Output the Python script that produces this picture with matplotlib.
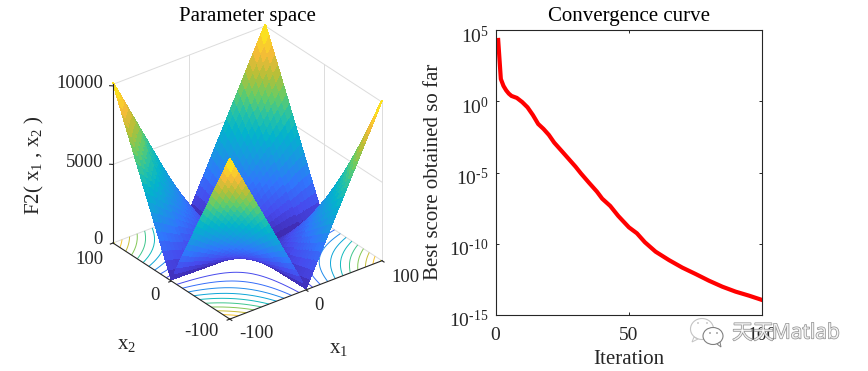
import numpy as np
import matplotlib
matplotlib.use('Agg')
import matplotlib.pyplot as plt
import matplotlib.patheffects as pe
from matplotlib.colors import LinearSegmentedColormap
from matplotlib.patches import Ellipse, Polygon
from matplotlib.transforms import ScaledTranslation
from mpl_toolkits.mplot3d import proj3d

# surface values read for one quadrant (|x1| across, |x2| down), the plot is mirrored
axis_half = [0, 5, 10, 15, 20, 25, 30, 35, 40, 45, 50, 55, 60, 65, 70, 75, 80, 85, 90, 95, 100]
z_quadrant = [
    [0, 5, 10, 15, 20, 25, 30, 35, 40, 45, 50, 55, 60, 65, 70, 75, 80, 85, 90, 95, 100],
    [5, 35, 65, 95, 125, 155, 185, 215, 245, 275, 305, 335, 365, 395, 425, 455, 485, 515, 545, 575, 605],
    [10, 65, 120, 175, 230, 285, 340, 395, 450, 505, 560, 615, 670, 725, 780, 835, 890, 945, 1000, 1055, 1110],
    [15, 95, 175, 255, 335, 415, 495, 575, 655, 735, 815, 895, 975, 1055, 1135, 1215, 1295, 1375, 1455, 1535, 1615],
    [20, 125, 230, 335, 440, 545, 650, 755, 860, 965, 1070, 1175, 1280, 1385, 1490, 1595, 1700, 1805, 1910, 2015, 2120],
    [25, 155, 285, 415, 545, 675, 805, 935, 1065, 1195, 1325, 1455, 1585, 1715, 1845, 1975, 2105, 2235, 2365, 2495, 2625],
    [30, 185, 340, 495, 650, 805, 960, 1115, 1270, 1425, 1580, 1735, 1890, 2045, 2200, 2355, 2510, 2665, 2820, 2975, 3130],
    [35, 215, 395, 575, 755, 935, 1115, 1295, 1475, 1655, 1835, 2015, 2195, 2375, 2555, 2735, 2915, 3095, 3275, 3455, 3635],
    [40, 245, 450, 655, 860, 1065, 1270, 1475, 1680, 1885, 2090, 2295, 2500, 2705, 2910, 3115, 3320, 3525, 3730, 3935, 4140],
    [45, 275, 505, 735, 965, 1195, 1425, 1655, 1885, 2115, 2345, 2575, 2805, 3035, 3265, 3495, 3725, 3955, 4185, 4415, 4645],
    [50, 305, 560, 815, 1070, 1325, 1580, 1835, 2090, 2345, 2600, 2855, 3110, 3365, 3620, 3875, 4130, 4385, 4640, 4895, 5150],
    [55, 335, 615, 895, 1175, 1455, 1735, 2015, 2295, 2575, 2855, 3135, 3415, 3695, 3975, 4255, 4535, 4815, 5095, 5375, 5655],
    [60, 365, 670, 975, 1280, 1585, 1890, 2195, 2500, 2805, 3110, 3415, 3720, 4025, 4330, 4635, 4940, 5245, 5550, 5855, 6160],
    [65, 395, 725, 1055, 1385, 1715, 2045, 2375, 2705, 3035, 3365, 3695, 4025, 4355, 4685, 5015, 5345, 5675, 6005, 6335, 6665],
    [70, 425, 780, 1135, 1490, 1845, 2200, 2555, 2910, 3265, 3620, 3975, 4330, 4685, 5040, 5395, 5750, 6105, 6460, 6815, 7170],
    [75, 455, 835, 1215, 1595, 1975, 2355, 2735, 3115, 3495, 3875, 4255, 4635, 5015, 5395, 5775, 6155, 6535, 6915, 7295, 7675],
    [80, 485, 890, 1295, 1700, 2105, 2510, 2915, 3320, 3725, 4130, 4535, 4940, 5345, 5750, 6155, 6560, 6965, 7370, 7775, 8180],
    [85, 515, 945, 1375, 1805, 2235, 2665, 3095, 3525, 3955, 4385, 4815, 5245, 5675, 6105, 6535, 6965, 7395, 7825, 8255, 8685],
    [90, 545, 1000, 1455, 1910, 2365, 2820, 3275, 3730, 4185, 4640, 5095, 5550, 6005, 6460, 6915, 7370, 7825, 8280, 8735, 9190],
    [95, 575, 1055, 1535, 2015, 2495, 2975, 3455, 3935, 4415, 4895, 5375, 5855, 6335, 6815, 7295, 7775, 8255, 8735, 9215, 9695],
    [100, 605, 1110, 1615, 2120, 2625, 3130, 3635, 4140, 4645, 5150, 5655, 6160, 6665, 7170, 7675, 8180, 8685, 9190, 9695, 10200],
]
contour_levels = [1000, 2000, 3000, 4000, 5000, 6000, 7000, 8000, 9000, 10000]

# convergence curve, log10 of best score
iterations = [1, 2, 3, 4, 5, 6, 8, 10, 12, 14, 16, 18, 20, 22, 25, 30, 32, 35, 38, 40, 43, 46,
              50, 53, 56, 60, 65, 70, 75, 80, 85, 90, 95, 100]
log_best = [4.32, 1.58, 1.09, 0.78, 0.55, 0.39, 0.25, -0.04, -0.41, -0.95, -1.58, -1.93, -2.35,
            -2.89, -3.52, -4.58, -5.05, -5.7, -6.33, -6.83, -7.34, -8.04, -8.84, -9.26, -9.89,
            -10.55, -11.14, -11.67, -12.12, -12.59, -13.01, -13.36, -13.64, -13.95]
log_ticks = [1e5, 1, 1e-5, 1e-10, 1e-15]
log_tick_labels = ['10$^{5}$', '10$^{0}$', '10$^{\\text{-5}}$', '10$^{\\text{-10}}$', '10$^{\\text{-15}}$']
iter_ticks = [0, 50, 100]
iter_tick_labels = ['0', '50', '100']

W, H = 868, 371
dark = '#262626'
grid_col = '#dcdcdc'
label_size = 15
tick_size = 13.5

plt.rcParams['font.family'] = ['Liberation Serif', 'Noto Sans CJK SC']
plt.rcParams['font.size'] = tick_size
plt.rcParams['mathtext.fontset'] = 'custom'
plt.rcParams['mathtext.rm'] = 'Liberation Serif'
plt.rcParams['mathtext.it'] = 'Liberation Serif'
plt.rcParams['mathtext.bf'] = 'Liberation Serif'
plt.rcParams['mathtext.default'] = 'regular'

parula = LinearSegmentedColormap.from_list('parula', [
    (0.00, (0.2422, 0.1504, 0.6603)),
    (0.10, (0.2780, 0.2900, 0.9300)),
    (0.22, (0.1900, 0.4600, 0.9900)),
    (0.34, (0.0900, 0.6000, 0.8800)),
    (0.45, (0.0100, 0.7000, 0.8000)),
    (0.55, (0.1500, 0.7600, 0.6500)),
    (0.65, (0.4000, 0.8000, 0.4000)),
    (0.75, (0.7000, 0.7500, 0.2200)),
    (0.85, (0.9500, 0.7300, 0.2200)),
    (0.93, (0.9900, 0.8300, 0.1600)),
    (1.00, (0.9763, 0.9831, 0.0538)),
])

half = np.array(axis_half, dtype=float)
quad = np.array(z_quadrant, dtype=float)
axis_full = np.r_[-half[:0:-1], half]
top = np.r_[quad[:0:-1], quad]
Z = np.c_[top[:, :0:-1], top]
X, Y = np.meshgrid(axis_full, axis_full)

fig = plt.figure(figsize=(W / 100, H / 100), dpi=100)
fig.patch.set_facecolor('white')


def px_text(x, y, s, **kw):
    kw.setdefault('ha', 'center')
    kw.setdefault('va', 'center')
    kw.setdefault('color', dark)
    return fig.text(x / W, 1 - y / H, s, **kw)


# left panel, MATLAB default view(3)
ax = fig.add_axes([0, 0, 400 / W, 400 / H], projection='3d', computed_zorder=False, proj_type='ortho')
ax.view_init(elev=30, azim=-127.5)
ax.set_xlim(-100, 100, view_margin=0)
ax.set_ylim(-100, 100, view_margin=0)
ax.set_zlim(0, 10100, view_margin=0)
ax.set_box_aspect((1, 1, 0.955))
ax.set_axis_off()

zmax = 10100
# walls
for xs, ys, zs in [
    ([-100, 100], [100, 100], [zmax, zmax]), ([100, 100], [-100, 100], [zmax, zmax]),
    ([-100, 100], [100, 100], [5000, 5000]), ([100, 100], [-100, 100], [5000, 5000]),
    ([0, 0], [100, 100], [0, zmax]), ([100, 100], [0, 0], [0, zmax]),
    ([100, 100], [-100, -100], [0, zmax]), ([100, 100], [100, 100], [0, zmax]),
    ([-100, 100], [100, 100], [0, 0]), ([100, 100], [-100, 100], [0, 0]),
]:
    ax.plot(xs, ys, zs, color=grid_col, lw=0.7, zorder=1)

ax.contour(X, Y, Z, levels=contour_levels, zdir='z', offset=0, cmap=parula, vmin=0, vmax=10200,
           linewidths=0.7, zorder=2)
surf = ax.plot_surface(X, Y, Z, cmap=parula, vmin=0, vmax=10200, rstride=1, cstride=1, shade=False,
                       antialiased=False, linewidth=0, zorder=3)
surf.set_edgecolor('face')
surf.set_linewidth(0.5)

# black axis lines and ticks
for xs, ys, zs in [
    ([-100, 100], [-100, -100], [0, 0]), ([-100, -100], [-100, 100], [0, 0]),
    ([-100, -100], [100, 100], [0, zmax]),
    ([-100, -100], [-100, -103.5], [0, 0]), ([0, 0], [-100, -103.5], [0, 0]), ([100, 100], [-100, -103.5], [0, 0]),
    ([-100, -103.5], [-100, -100], [0, 0]), ([-100, -103.5], [0, 0], [0, 0]), ([-100, -103.5], [100, 100], [0, 0]),
    ([-100, -102.5], [100, 102.5], [5000, 5000]), ([-100, -102.5], [100, 102.5], [10000, 10000]),
]:
    ax.plot(xs, ys, zs, color=dark, lw=0.8, zorder=4)


def to_px(x, y, z):
    a, b, _ = proj3d.proj_transform(x, y, z, ax.get_proj())
    return ax.transData.transform((a, b))


# fit the box onto its place in the picture: front corner and left/right corners
side = 400.0
tx, ty = 0.0, 0.0
for i in range(3):
    ax.set_position([tx / W, ty / H, side / W, side / H])
    ax.apply_aspect()
    left = to_px(-100, 100, 0)
    right = to_px(100, -100, 0)
    side *= (382 - 113) / (right[0] - left[0])
    ax.set_position([tx / W, ty / H, side / W, side / H])
    ax.apply_aspect()
    left = to_px(-100, 100, 0)
    tx += 113 - left[0]
    ty += (H - 243) - left[1]

px_text(247, 17, 'Parameter space', color='black', fontsize=label_size)
px_text(103, 84, '10000', ha='right')
px_text(103, 162, '5000', ha='right')
px_text(103, 239, '0', ha='right')
px_text(89, 259, '100')
px_text(155, 295, '0')
px_text(201, 332, '-100')
px_text(256, 333, '-100')
px_text(319, 305, '0')
px_text(405, 278, '100')
px_text(127, 344, 'x$_{2}$', fontsize=label_size)
px_text(339, 348, 'x$_{1}$', fontsize=label_size)
px_text(34, 165, 'F2( x$_{1}$ , x$_{2}$ )', rotation=90, fontsize=label_size)

# right panel
ax2 = fig.add_axes([495.5 / W, 1 - 315 / H, (762.3 - 495.5) / W, (315 - 30.3) / H])
ax2.semilogy(iterations, np.power(10.0, log_best), color='#ff0000', lw=3.0, solid_joinstyle='miter')
ax2.set_xlim(0, 100)
ax2.set_ylim(1e-15, 1e5)
ax2.set_xticks(iter_ticks)
ax2.set_xticklabels(iter_tick_labels)
ax2.set_yticks(log_ticks)
ax2.set_yticklabels(log_tick_labels)
ax2.minorticks_off()
ax2.tick_params(which='major', direction='in', length=2.5, width=0.7, top=True, right=True,
                colors=dark, labelsize=tick_size + 0.5, pad=5)
ax2.tick_params(axis='x', pad=9)
shift = ScaledTranslation(0, -4 / 100, fig.dpi_scale_trans)
for lab in ax2.get_yticklabels():
    lab.set_transform(lab.get_transform() + shift)
for s in ax2.spines.values():
    s.set_linewidth(0.8)
    s.set_color(dark)
px_text(629, 17, 'Convergence curve', color='black', fontsize=label_size)
px_text(629, 360, 'Iteration', fontsize=label_size)
px_text(433, 172, 'Best score obtained so far', rotation=90, fontsize=label_size)

# watermark, sits over the 100 tick label
stroke = [pe.withStroke(linewidth=0.9, foreground='#8c8c8c')]
fill = (1, 1, 1, 0.75)
px_text(753, 333, '天天', color=fill, fontsize=15, family=['Noto Sans CJK SC'], path_effects=stroke, zorder=5)
px_text(806, 333, 'Matlab', color=fill, fontsize=15, family=['Noto Sans'], path_effects=stroke, zorder=5)
ov = fig.add_axes([0, 0, 1, 1], facecolor='none')
ov.set_xlim(0, W)
ov.set_ylim(H, 0)
ov.axis('off')
ov.add_patch(Ellipse((702, 329), 23, 21, fill=False, ec='#c4c4c4', lw=0.8))
ov.add_patch(Polygon([(694, 337), (692, 342), (698, 339)], closed=True, fill=False, ec='#c4c4c4', lw=0.7))
ov.add_patch(Ellipse((713, 336), 20, 17, fc='white', ec='#808080', lw=0.8))
ov.add_patch(Polygon([(717, 344), (721, 347), (720, 342)], closed=True, fc='white', ec='#808080', lw=0.7))
for ex, ey, col in [(698, 323, '#c0c0c0'), (707, 323, '#c0c0c0'), (710, 333, '#909090'), (717, 333, '#909090')]:
    ov.add_patch(Ellipse((ex, ey), 1.8, 1.8, fc=col, ec='none'))

fig.savefig('out.png', dpi=100)
